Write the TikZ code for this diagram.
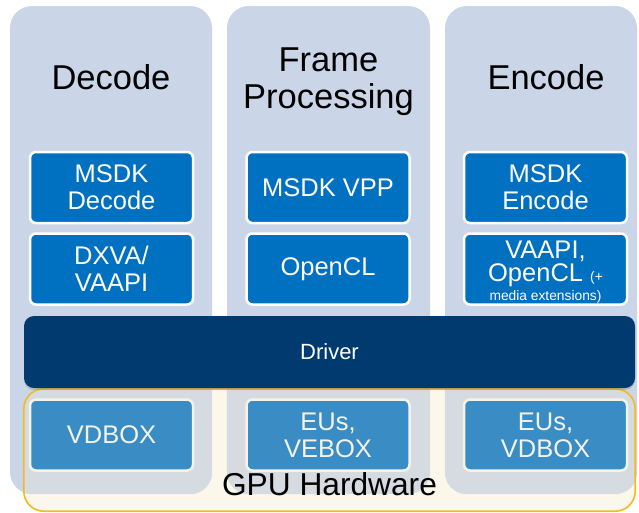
\documentclass[tikz,border=0pt]{standalone}
\usepackage{fontspec}
\setmainfont{Liberation Sans}
\usetikzlibrary{shadows}
\definecolor{panel}{HTML}{CBD5E8}
\definecolor{panelgrey}{HTML}{D6DBE1}
\definecolor{msblue}{HTML}{0070C0}
\definecolor{hwblue}{HTML}{3A8CC4}
\definecolor{navy}{HTML}{003A6E}
\definecolor{gpuborder}{HTML}{F2BC1E}
\definecolor{cream}{HTML}{FBF8EB}
\definecolor{hwedge}{HTML}{F4F3EA}
\begin{document}
\begin{tikzpicture}[x=1pt,y=-1pt,
  panelbox/.style={fill=panel, draw=none, rounded corners=22pt, minimum width=202pt, minimum height=488pt, inner sep=0pt},
  swbox/.style={fill=msblue, draw=white, line width=2.5pt, rounded corners=6pt, minimum width=163pt, minimum height=71pt, inner sep=0pt, text=white, align=center, font=\fontsize{25.5}{27}\selectfont},
  hwbox/.style={swbox, fill=hwblue, draw=hwedge, text=hwedge},
  titletext/.style={text=black, align=center, font=\fontsize{34.5}{37}\selectfont, inner sep=0pt},
  drvbox/.style={fill=navy, draw=none, rounded corners=10pt, minimum width=611pt, minimum height=72pt, text=white, font=\fontsize{22}{24}\selectfont, drop shadow={shadow xshift=0pt, shadow yshift=-2pt, opacity=0.3}},
  gpubox/.style={fill=cream, draw=none, rounded corners=20pt, minimum width=611pt, minimum height=122pt, inner sep=0pt},
]
\useasboundingbox (0,0) rectangle (639,512);
\fill[white] (0,0) rectangle (639,512);

% column panels
\node[panelbox] (pdec) at (111,250) {};
\node[panelbox, minimum width=203pt] (pfp) at (328.5,250) {};
\node[panelbox, minimum width=192pt] (penc) at (541,250) {};

% GPU hardware area
\node[gpubox] (gpu) at (329.5,450) {};
\begin{scope}
  \clip[rounded corners=20pt] (gpu.south west) rectangle (gpu.north east);
  \fill[panelgrey, rounded corners=22pt] (pdec.south west) rectangle (pdec.north east);
  \fill[panelgrey, rounded corners=22pt] (pfp.south west) rectangle (pfp.north east);
  \fill[panelgrey, rounded corners=22pt] (penc.south west) rectangle (penc.north east);
\end{scope}
\draw[gpuborder, line width=1.6pt, rounded corners=20pt] (gpu.south west) rectangle (gpu.north east);

% titles
\node[titletext] (tdec) at (111,77) {Decode};
\node[titletext] (tfp) at (328.5,82) {Frame\\Processing};
\node[titletext] (tenc) at (546,77) {Encode};

% software boxes
\node[swbox] (msdkdec) at (111.5,187.5) {MSDK\\Decode};
\node[swbox] (msdkvpp) at (328,187.5) {MSDK VPP};
\node[swbox] (msdkenc) at (545.5,187.5) {MSDK\\Encode};
\node[swbox] (dxva) at (111.5,269) {DXVA/\\VAAPI};
\node[swbox] (opencl) at (328,269) {OpenCL};
\node[swbox] (vaapi) at (545.5,269) {};
\node[text=white, inner sep=0pt, align=center, font=\fontsize{25.5}{23}\selectfont] (vaapitext) at (545.5,272.5) {VAAPI,\\OpenCL {\fontsize{13.8}{14}\selectfont (+}\\[-4pt]{\fontsize{13.8}{14}\selectfont media extensions)}};

% driver
\node[drvbox] (drv) at (329.5,352) {Driver};

% hardware boxes
\node[hwbox] (vdbox) at (111.5,435) {VDBOX};
\node[hwbox] (vebox) at (328,435) {EUs,\\VEBOX};
\node[hwbox] (vdbox2) at (545.5,435) {EUs,\\VDBOX};

\node[text=black, inner sep=0pt, font=\fontsize{31.7}{34}\selectfont] (gpulabel) at (329.5,484) {GPU Hardware};
\end{tikzpicture}
\end{document}
